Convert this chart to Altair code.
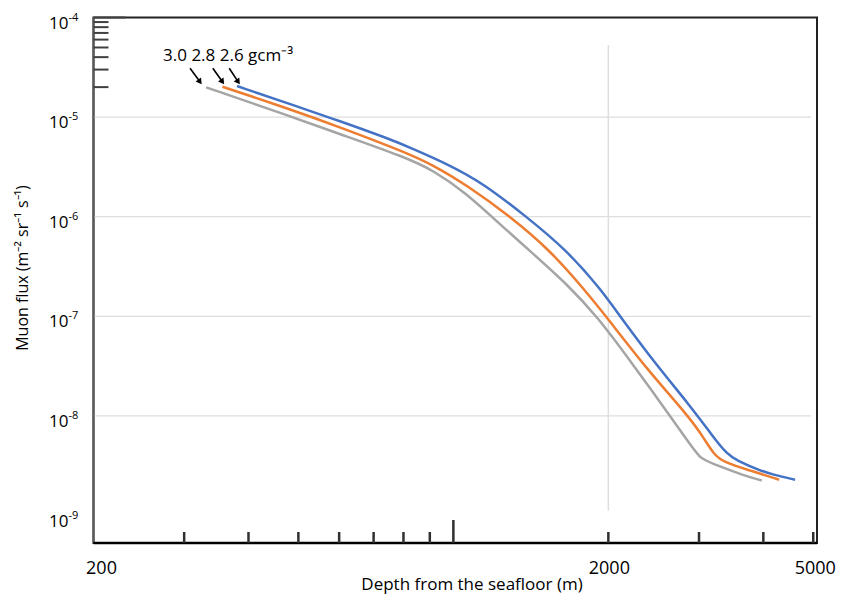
import altair as alt
import pandas as pd

# ---- data ----
densities = ["2.6", "2.8", "3.0"]
colors = ["#4472C4", "#ED7D31", "#A5A5A5"]

depth_26 = [380, 482, 602, 753, 824, 985, 1143, 1388, 1661, 1942, 2107, 2484, 2882, 3199, 3396, 3552, 3942, 4184, 4610]
flux_26 = [2.05e-5, 1.35e-5, 9.12e-6, 6.01e-6, 4.94e-6, 3.29e-6, 2.16e-6, 9.95e-7, 4.61e-7, 1.82e-7, 1.0e-7, 3.2e-8, 1.27e-8, 6.12e-9, 4.17e-9, 3.57e-9, 2.83e-9, 2.57e-9, 2.29e-9]

depth_28 = [356, 482, 602, 806, 914, 1062, 1288, 1541, 1802, 1979, 2375, 2860, 3058, 3199, 3345, 3770, 4292]
flux_28 = [2.02e-5, 1.20e-5, 7.93e-6, 4.45e-6, 3.29e-6, 2.07e-6, 1.01e-6, 4.61e-7, 1.82e-7, 1.0e-7, 2.95e-8, 1.0e-8, 6.12e-9, 4.17e-9, 3.43e-9, 2.83e-9, 2.29e-9]

depth_30 = [331, 482, 602, 806, 914, 1062, 1178, 1428, 1663, 1901, 2204, 2882, 3014, 3199, 3658, 3972]
flux_30 = [1.99e-5, 1.02e-5, 6.75e-6, 3.96e-6, 2.93e-6, 1.70e-6, 1.035e-6, 4.25e-7, 2.10e-7, 1.0e-7, 3.61e-8, 5.25e-9, 3.71e-9, 3.31e-9, 2.52e-9, 2.25e-9]

grid_flux = [1e-5, 1e-6, 1e-7, 1e-8]
ylabel_flux = [1e-4, 1e-5, 1e-6, 1e-7, 1e-8, 1e-9]
ylabel_exp = ["-4", "-5", "-6", "-7", "-8", "-9"]
ytick_minor = [2e-5, 3e-5, 4e-5, 5e-5, 6e-5, 7e-5, 8e-5, 9e-5]
ytick_major = [1e-4]
xtick_minor = [300, 400, 500, 600, 700, 800, 900, 2000, 3000, 4000, 5000]
xtick_major = [1000]
xlabel_left = [200]
xlabel_mid = [2000]
xlabel_right = [5000]
x_title = ["Depth from the seafloor (m)"]
y_title = ["Muon flux (m⁻² sr⁻¹ s⁻¹)"]

arrow_x1 = [308, 341, 367]
arrow_x2 = [322, 356, 382]
arrow_y1 = [3.09e-5, 3.09e-5, 3.09e-5]
arrow_y2 = [2.26e-5, 2.26e-5, 2.26e-5]
annot_text = ["3.0 2.8 2.6 gcm⁻³"]
annot_x = [273]
annot_y = [4.15e-5]

vline_x = [2000]
vline_y = [1.12e-9]
vline_y2 = [5.3e-5]

# ---- tables ----
curves = pd.concat([
    pd.DataFrame({"depth": depth_26, "flux": flux_26, "density": "2.6"}),
    pd.DataFrame({"depth": depth_28, "flux": flux_28, "density": "2.8"}),
    pd.DataFrame({"depth": depth_30, "flux": flux_30, "density": "3.0"}),
], ignore_index=True)

W, H = 723.5, 525.5
FONT = "Open Sans"
xscale = alt.Scale(type="log", domain=[200, 5085], nice=False)
yscale = alt.Scale(type="log", domain=[5.3e-10, 1e-4], nice=False)

lines = alt.Chart(curves).mark_line(strokeWidth=2.5, interpolate="basis").encode(
    x=alt.X("depth:Q", scale=xscale, axis=None),
    y=alt.Y("flux:Q", scale=yscale, axis=None),
    color=alt.Color("density:N", scale=alt.Scale(domain=densities, range=colors), legend=None),
)

grid = alt.Chart(pd.DataFrame({"flux": grid_flux})).mark_rule(color="#dedede", strokeWidth=1.2).encode(
    y=alt.Y("flux:Q", scale=yscale, axis=None),
    x=alt.value(0), x2=alt.value(W - 6),
)

vline = alt.Chart(pd.DataFrame({"x": vline_x, "y": vline_y, "y2": vline_y2})).mark_rule(
    color="#dedede", strokeWidth=1.5).encode(
    x=alt.X("x:Q", scale=xscale, axis=None),
    y=alt.Y("y:Q", scale=yscale, axis=None), y2="y2:Q",
)

frame_df = pd.DataFrame({"k": [0]})
left_dom = alt.Chart(frame_df).mark_rule(color="#5a5a5a", strokeWidth=2).encode(
    x=alt.value(0), y=alt.value(0), y2=alt.value(H))
bottom_dom = alt.Chart(frame_df).mark_rule(color="#000000", strokeWidth=2.5).encode(
    x=alt.value(0), x2=alt.value(W), y=alt.value(H))

ytm = alt.Chart(pd.DataFrame({"flux": ytick_minor})).mark_rule(color="#404040", strokeWidth=2).encode(
    y=alt.Y("flux:Q", scale=yscale, axis=None), x=alt.value(0), x2=alt.value(15))
ytM = alt.Chart(pd.DataFrame({"flux": ytick_major})).mark_rule(color="#404040", strokeWidth=2).encode(
    y=alt.Y("flux:Q", scale=yscale, axis=None), x=alt.value(0), x2=alt.value(32))
xtm = alt.Chart(pd.DataFrame({"depth": xtick_minor})).mark_rule(color="#303030", strokeWidth=2.5).encode(
    x=alt.X("depth:Q", scale=xscale, axis=None), y=alt.value(H), y2=alt.value(H - 11))
xtM = alt.Chart(pd.DataFrame({"depth": xtick_major})).mark_rule(color="#303030", strokeWidth=2.5).encode(
    x=alt.X("depth:Q", scale=xscale, axis=None), y=alt.value(H), y2=alt.value(H - 23))

ylab_df = pd.DataFrame({"flux": ylabel_flux, "exp": ylabel_exp})
ylab_base = alt.Chart(ylab_df).mark_text(align="right", baseline="middle", font=FONT, fontSize=17,
                                         dy=6, color="#000000").encode(
    y=alt.Y("flux:Q", scale=yscale, axis=None), x=alt.value(-25), text=alt.value("10"))
ylab_exp = alt.Chart(ylab_df).mark_text(align="left", baseline="middle", font=FONT, fontSize=11,
                                        dy=0, color="#000000").encode(
    y=alt.Y("flux:Q", scale=yscale, axis=None), x=alt.value(-25), text="exp:N")


def xlab(vals, dx):
    return alt.Chart(pd.DataFrame({"depth": vals})).mark_text(
        align="center", baseline="middle", font=FONT, fontSize=18, color="#000000", dx=dx).encode(
        x=alt.X("depth:Q", scale=xscale, axis=None), y=alt.value(H + 26),
        text=alt.Text("depth:Q", format="d"))


xl1 = xlab(xlabel_left, 8)
xl2 = xlab(xlabel_mid, 1)
xl3 = xlab(xlabel_right, 2)

xt = alt.Chart(pd.DataFrame({"t": x_title})).mark_text(
    align="center", baseline="middle", font=FONT, fontSize=17, color="#000000").encode(
    x=alt.value(378.5), y=alt.value(H + 42), text="t:N")
yt = alt.Chart(pd.DataFrame({"t": y_title})).mark_text(
    align="center", baseline="middle", font=FONT, fontSize=16, color="#000000", angle=270).encode(
    x=alt.value(-71), y=alt.value(250.5), text="t:N")

arrows = pd.DataFrame({"x1": arrow_x1, "x2": arrow_x2, "y1": arrow_y1, "y2": arrow_y2})
arrow_lines = alt.Chart(arrows).mark_rule(color="#000000", strokeWidth=1.6).encode(
    x=alt.X("x1:Q", scale=xscale, axis=None), x2="x2:Q",
    y=alt.Y("y1:Q", scale=yscale, axis=None), y2="y2:Q")
arrow_heads = alt.Chart(arrows).mark_point(shape="triangle-right", angle=55, filled=True, size=45,
                                           color="#000000", opacity=1).encode(
    x=alt.X("x2:Q", scale=xscale, axis=None),
    y=alt.Y("y2:Q", scale=yscale, axis=None))

annot = alt.Chart(pd.DataFrame({"x": annot_x, "y": annot_y, "t": annot_text})).mark_text(
    align="left", baseline="middle", font=FONT, fontSize=17, color="#000000").encode(
    x=alt.X("x:Q", scale=xscale, axis=None),
    y=alt.Y("y:Q", scale=yscale, axis=None), text="t:N")

chart = alt.layer(
    grid, vline, lines, left_dom, bottom_dom, ytm, ytM, xtm, xtM, ylab_base, ylab_exp,
    xl1, xl2, xl3, xt, yt, arrow_lines, arrow_heads, annot
).properties(
    width=W, height=H,
    autosize=alt.AutoSizeParams(type="none"),
    padding={"left": 85.5, "top": 9.5, "right": 20, "bottom": 51},
).configure(
    background="white",
    view=alt.ViewConfig(stroke="#222222", strokeWidth=2),
)

chart.save("out.html", embed_options={"renderer": "svg", "actions": False})
